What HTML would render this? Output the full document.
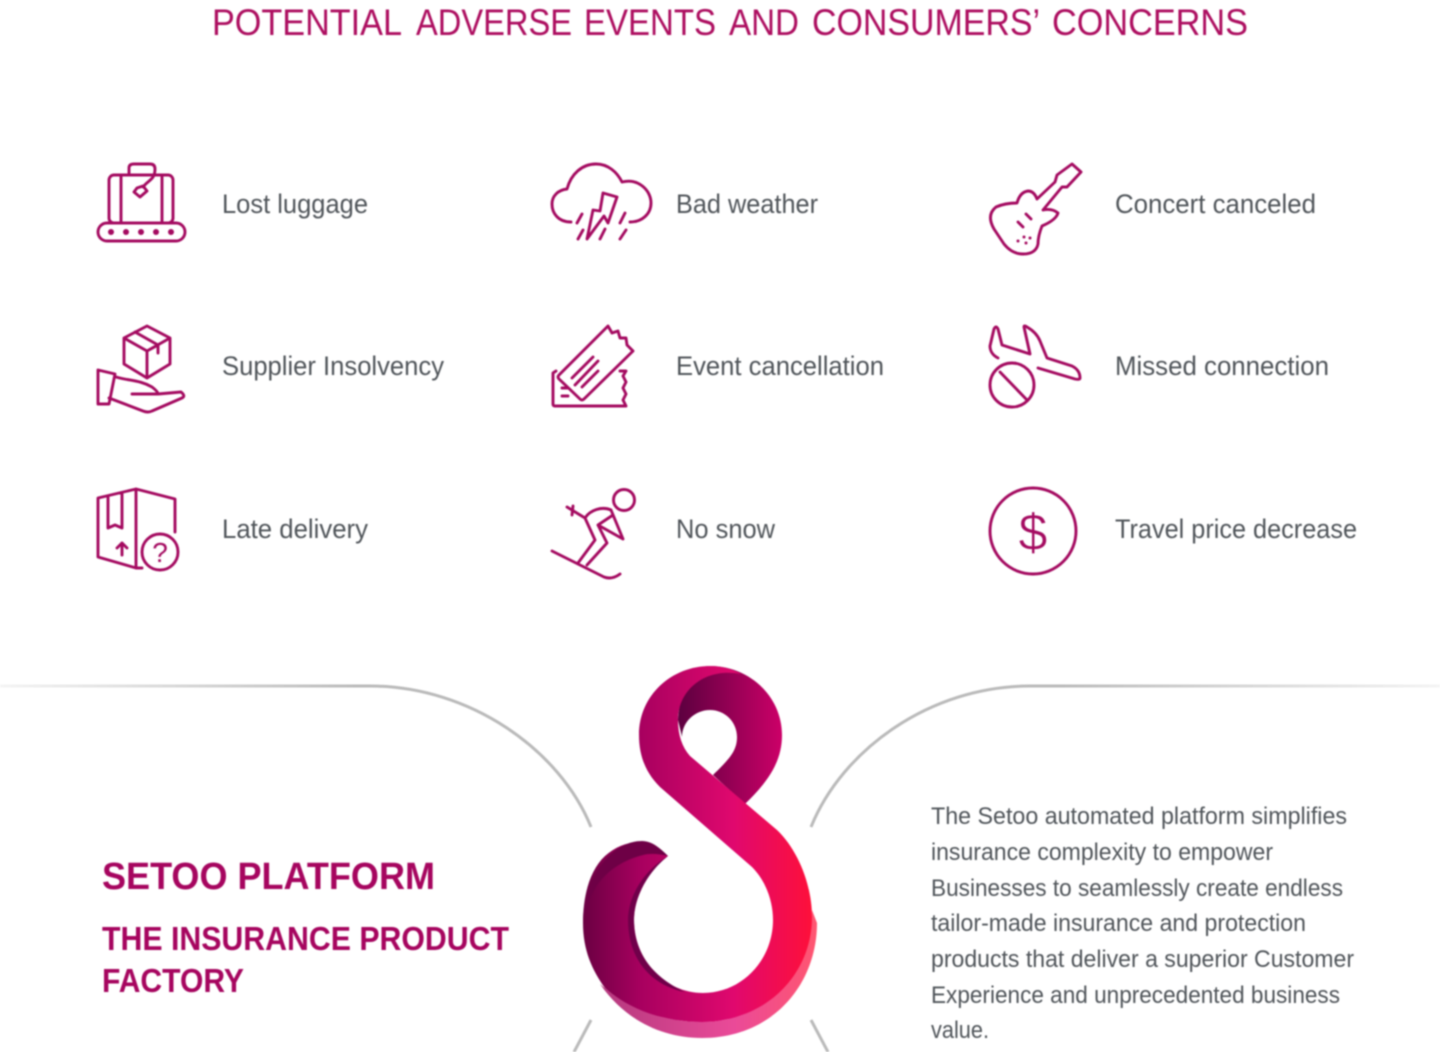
<!DOCTYPE html>
<html><head><meta charset="utf-8">
<style>
html,body{margin:0;padding:0;background:#fff;width:1440px;height:1052px;overflow:hidden}
svg{display:block;filter:blur(.7px)}
text{font-family:"Liberation Sans",sans-serif}
.lb{font-size:27px;fill:#50555a}
.p{font-size:24.5px;fill:#50555a}
.t{font-size:37px;fill:#ad0e60}
.i{fill:none;stroke:#a40a60;stroke-width:2.9;stroke-linecap:round;stroke-linejoin:round}
</style></head><body>
<svg width="1440" height="1052" viewBox="0 0 1440 1052" xmlns="http://www.w3.org/2000/svg">
<defs>
<linearGradient id="lf" x1="0" x2="1" y1="0" y2="0"><stop offset="0" stop-color="#f4f4f4"/><stop offset=".6" stop-color="#bababa"/></linearGradient>
<linearGradient id="rf" x1="0" x2="1" y1="0" y2="0"><stop offset=".4" stop-color="#bababa"/><stop offset="1" stop-color="#f4f4f4"/></linearGradient>
<linearGradient id="main" gradientUnits="userSpaceOnUse" x1="583" x2="815" y1="0" y2="0"><stop offset="0" stop-color="#6a0042"/><stop offset=".25" stop-color="#a8005f"/><stop offset=".65" stop-color="#e0086e"/><stop offset="1" stop-color="#ff1038"/></linearGradient>
<linearGradient id="back" gradientUnits="userSpaceOnUse" x1="680" x2="782" y1="0" y2="0"><stop offset="0" stop-color="#5e0040"/><stop offset="1" stop-color="#cc0068"/></linearGradient>
<linearGradient id="pale" gradientUnits="userSpaceOnUse" x1="610" x2="817" y1="0" y2="0"><stop offset="0" stop-color="#b83a80"/><stop offset=".6" stop-color="#ea4a98"/><stop offset="1" stop-color="#ff5570"/></linearGradient>
</defs>

<text class="t" x="212" y="35" textLength="190" lengthAdjust="spacingAndGlyphs">POTENTIAL</text>
<text class="t" x="416" y="35" textLength="156" lengthAdjust="spacingAndGlyphs">ADVERSE</text>
<text class="t" x="584" y="35" textLength="132" lengthAdjust="spacingAndGlyphs">EVENTS</text>
<text class="t" x="729" y="35" textLength="70" lengthAdjust="spacingAndGlyphs">AND</text>
<text class="t" x="812" y="35" textLength="228" lengthAdjust="spacingAndGlyphs">CONSUMERS’</text>
<text class="t" x="1052" y="35" textLength="196" lengthAdjust="spacingAndGlyphs">CONCERNS</text>

<!-- Lost luggage -->
<g class="i">
<rect x="98" y="223" width="87" height="18" rx="9"/>
<rect x="109" y="175" width="64" height="48" rx="5"/>
<path d="M121 175V223M162 175V223M129 174V168Q129 164 134 164H150Q155 164 155 169C155 180 148 180 143 187"/>
<path d="M143 186L147 191L140 197L134 192L137 188Z"/>
</g>
<g fill="#a40a60"><circle cx="111" cy="232" r="3"/><circle cx="126" cy="232" r="3"/><circle cx="141" cy="232" r="3"/><circle cx="156" cy="232" r="3"/><circle cx="171" cy="232" r="3"/></g>
<text class="lb" x="222" y="213" textLength="146" lengthAdjust="spacingAndGlyphs">Lost luggage</text>

<!-- Supplier -->
<g class="i">
<path d="M147 326L170 338V364L147 378L124 364V338ZM124 338L147 351L170 338M147 351V378M135 332L158 345V353M158 345L147 351"/>
<path d="M98 370L115 374L109 404H98ZM116 377C130 381 140 380 152 387C156 390 158 392 158 394H132M158 394L181 392Q186 396 182 398L152 411Q148 413 143 411L109 398"/>
</g>
<text class="lb" x="222" y="375" textLength="222" lengthAdjust="spacingAndGlyphs">Supplier Insolvency</text>

<!-- Late delivery -->
<g class="i">
<path d="M175 532V499L136 489L98 498V557L136 568H142M136 489V568M108 496V528L115 525L122 528V493M122 555V543M117 548L122 543L127 548"/>
<circle cx="160" cy="552" r="18"/>
</g>
<text x="160" y="562" font-size="28" text-anchor="middle" fill="#a40a60">?</text>
<text class="lb" x="222" y="538" textLength="146" lengthAdjust="spacingAndGlyphs">Late delivery</text>

<!-- Bad weather -->
<g class="i">
<path d="M571 222C558 222 552 213 552 204C552 196 558 190 567 189C571 174 582 164 596 164C608 164 617 172 622 182C638 178 651 190 651 203C651 214 642 222 630 222"/>
<path d="M603 193L617 197L608 223L604 216L587 239L593 210L600 211ZM582 214L577 223M583 230L578 239M605 229L600 239M625 213L620 223M626 230L620 239"/>
</g>
<text class="lb" x="676" y="213" textLength="142" lengthAdjust="spacingAndGlyphs">Bad weather</text>

<!-- Event cancellation -->
<g class="i">
<path d="M608 326L612 333L618 331L620 338L626 338L627 345L633 351L584 399Q582 401 580 399L559 379Q557 377 559 375Z"/>
<path d="M572 378L593 357M575 385L598 361M582 387L598 371M556 371L553 373V404Q553 406 555 406H626L623 400L626 394L623 388L626 382L623 376L626 371H620M562 388H567M562 396H568"/>
</g>
<text class="lb" x="676" y="375" textLength="208" lengthAdjust="spacingAndGlyphs">Event cancellation</text>

<!-- No snow -->
<g class="i">
<circle cx="624" cy="500" r="10.5"/>
<path d="M567 507L585 518M573 506L572 515M585 518C590 510 602 506 611 510L623 539L598 525L613 515M585 518L595 540L578 563M598 525L607 543L587 565M552 551L604 577Q612 580 620 574"/>
</g>
<text class="lb" x="676" y="538" textLength="99" lengthAdjust="spacingAndGlyphs">No snow</text>

<!-- Guitar -->
<g class="i">
<path d="M1072 164L1081 172L1067 187L1062 187L1043 210Q1052 208 1058 213Q1056 220 1042 226Q1038 236 1038 244Q1036 254 1023 254Q1012 254 1004 244L994 229Q986 215 996 207Q1005 203 1017 203Q1020 192 1028 191Q1034 191 1037 199L1055 182L1057 175Z"/>
<path d="M1018 222L1023 227M1026 214L1031 219"/>
</g>
<g fill="#a40a60"><circle cx="1018" cy="241" r="1.5"/><circle cx="1024" cy="237" r="1.5"/><circle cx="1030" cy="238" r="1.5"/><circle cx="1026" cy="243" r="1.5"/></g>
<text class="lb" x="1115" y="213" textLength="201" lengthAdjust="spacingAndGlyphs">Concert canceled</text>

<!-- Missed connection -->
<g class="i">
<path d="M998 358C992 355 990 350 990 346L994 329Q996 325 998 329L1002 345L1030 354L1024 327Q1024 325 1027 327C1034 331 1038 336 1040 341L1047 358L1072 366Q1080 370 1080 378Q1080 380 1075 379L1038 368"/>
<circle cx="1012" cy="385" r="22"/>
<path d="M1000 372L1027 400"/>
</g>
<text class="lb" x="1115" y="375" textLength="214" lengthAdjust="spacingAndGlyphs">Missed connection</text>

<!-- Dollar -->
<circle class="i" cx="1033" cy="531" r="43"/>
<text x="1033" y="550" font-size="52" text-anchor="middle" fill="#a40a60" stroke="#fff" stroke-width=".7">$</text>
<text class="lb" x="1115" y="538" textLength="242" lengthAdjust="spacingAndGlyphs">Travel price decrease</text>

<!-- grey curves -->
<path d="M0 686H370C470 686 560 750 591 827" fill="none" stroke="url(#lf)" stroke-width="3"/>
<path d="M811 827C842 750 930 686 1030 686H1440" fill="none" stroke="url(#rf)" stroke-width="3"/>
<path d="M591 1020L574 1052M811 1020L828 1052" fill="none" stroke="#bababa" stroke-width="3"/>

<!-- logo -->
<path d="M600 984C625 1020 662 1038 702 1038C772 1038 817 985 817 923L812 910C812 975 765 1022 702 1022C665 1022 630 1010 600 984Z" fill="url(#pale)"/>
<path d="M710 666C750 666 782 697 782 735C782 760 770 780 745 804L713 775C728 760 737 752 737 737C737 722 725 710 710 710C695 710 682 722 682 737L678 720C680 690 690 666 710 666Z" fill="url(#back)"/>
<path d="M668 856C650 838 625 838 605 856C590 870 583 895 583 923C583 950 592 970 605 988C630 1010 665 1022 702 1022C765 1022 812 975 812 917C812 885 798 850 777 830L690 756C682 747 678 735 678 720C678 690 705 667 741 674C732 669 722 666 710 666C672 666 639 695 639 735C639 755 645 772 660 787L752 867C765 880 773 900 773 920C773 960 742 993 703 993C665 993 634 960 634 920C634 895 650 870 668 856Z" fill="url(#main)"/>
<path d="M583 923C583 880 610 841 642 841C652 841 660 848 668 856C660 854 650 853 643 855C615 862 595 880 588 905C585 912 584 918 583 923Z" fill="#6e0046"/>
<path d="M668 856C645 870 628 895 628 920C628 958 650 985 685 992C655 978 634 955 634 920C634 895 650 870 668 856Z" fill="#70004a"/>

<text x="102" y="889" font-size="38" font-weight="bold" fill="#a6055f" textLength="333" lengthAdjust="spacingAndGlyphs">SETOO PLATFORM</text>
<text x="102" y="950" font-size="33" font-weight="bold" fill="#a6055f" textLength="407" lengthAdjust="spacingAndGlyphs">THE INSURANCE PRODUCT</text>
<text x="102" y="992" font-size="33" font-weight="bold" fill="#a6055f" textLength="142" lengthAdjust="spacingAndGlyphs">FACTORY</text>

<text class="p" x="931" y="824" textLength="416" lengthAdjust="spacingAndGlyphs">The Setoo automated platform simplifies</text>
<text class="p" x="931" y="860" textLength="342" lengthAdjust="spacingAndGlyphs">insurance complexity to empower</text>
<text class="p" x="931" y="896" textLength="412" lengthAdjust="spacingAndGlyphs">Businesses to seamlessly create endless</text>
<text class="p" x="931" y="931" textLength="375" lengthAdjust="spacingAndGlyphs">tailor-made insurance and protection</text>
<text class="p" x="931" y="967" textLength="423" lengthAdjust="spacingAndGlyphs">products that deliver a superior Customer</text>
<text class="p" x="931" y="1003" textLength="409" lengthAdjust="spacingAndGlyphs">Experience and unprecedented business</text>
<text class="p" x="931" y="1038" textLength="58" lengthAdjust="spacingAndGlyphs">value.</text>
</svg>
</body></html>
